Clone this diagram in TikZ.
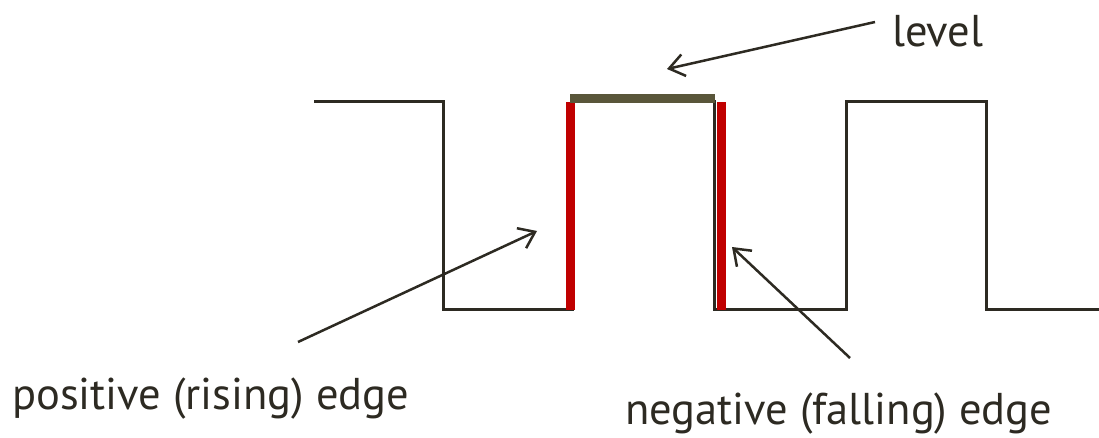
\documentclass[tikz,border=0pt]{standalone}
\usepackage{fontspec}
\setmainfont{PT Sans}
\usetikzlibrary{arrows.meta}
\definecolor{ink}{RGB}{45,42,34}
\definecolor{edgered}{RGB}{192,0,0}
\definecolor{levelc}{RGB}{89,86,58}
\begin{document}
\begin{tikzpicture}[x=1pt,y=-1pt,
  wave/.style={draw=ink,line width=3pt,line join=miter},
  pointer/.style={draw=ink,line width=2.5pt,-{Straight Barb[length=15pt,width=22pt]}},
  lbl/.style={text=ink,font=\fontsize{44.5}{48}\selectfont,inner sep=0pt,anchor=base west}]
\useasboundingbox[fill=white] (0,0) rectangle (1099,438);
% waveform
\draw[wave] (314,102) -- (443,102) -- (443,309) -- (572,309) -- (572,102) -- (714,102)
  -- (714,309) -- (846,309) -- (846,102) -- (986,102) -- (986,309) -- (1099,309);
% edges
\fill[edgered] (566,102) rectangle (575,310);
\fill[edgered] (717,102) rectangle (726,310);
% level
\fill[levelc] (570,94) rectangle (715,103);
% labels
\node[lbl] (level) at (892,47) {level};
\node[lbl] (pos) at (12,409) {positive (rising) edge};
\node[lbl] (neg) at (625,424) {negative (falling) edge};
% arrows
\coordinate (levelS) at (875,22);
\coordinate (levelT) at (667,69);
\coordinate (posS) at (298,342);
\coordinate (posT) at (537,231);
\coordinate (negS) at (850,358);
\coordinate (negT) at (732,247);
\draw[pointer] (levelS) -- (levelT);
\draw[pointer] (posS) -- (posT);
\draw[pointer] (negS) -- (negT);
\end{tikzpicture}
\end{document}
